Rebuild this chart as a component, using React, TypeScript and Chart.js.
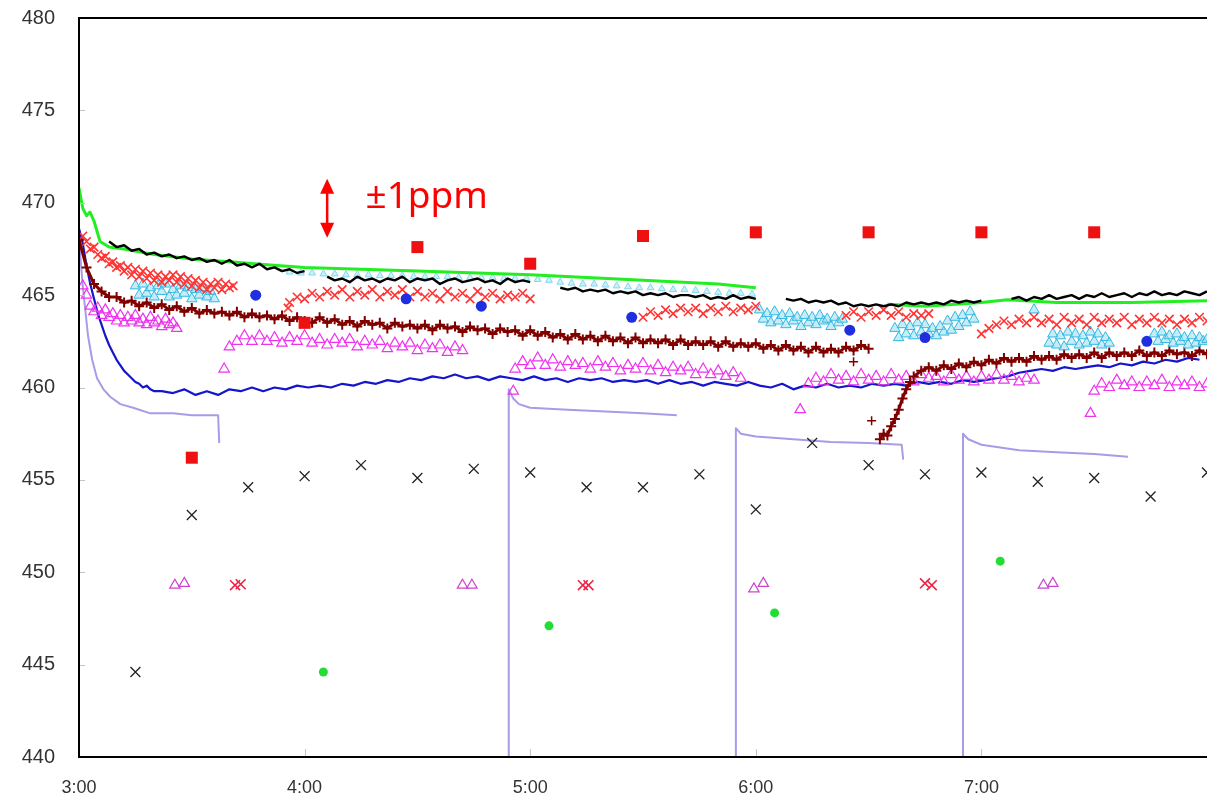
import React, { useEffect, useRef } from "react";
import { Chart, registerables } from "chart.js";

Chart.register(...registerables);

// ---------------- axes ----------------
const X_START_HOUR = 3;
const X_END_HOUR = 8;
const HOUR_LABELS = ["3:00", "4:00", "5:00", "6:00", "7:00"];
const Y_MIN = 440;
const Y_MAX = 480;
const Y_STEP = 5;

// annotation
const ARROW_HOUR = 4.1;
const ARROW_TOP = 471.3;
const ARROW_BOTTOM = 468.1;
const NOTE_TEXT = "±1ppm";
const NOTE_HOUR = 4.27;
const NOTE_BASE = 469.73;

type Seg = { start: number; step: number; values: number[] };
type Pair = [number, number];

// ---------------- data (minutes after 3:00, ppm) ----------------
const redSquareMinutes = [30, 60, 90, 120, 150, 180, 210, 240, 270];
const redSquareValues = [456.2, 463.5, 467.6, 466.7, 468.2, 468.4, 468.4, 468.4, 468.4];

const blackXMinutes = [15, 30, 45, 60, 75, 90, 105, 120, 135, 150, 165, 180, 195, 210, 225, 240, 255, 270, 285, 300];
const blackXValues = [444.6, 453.1, 454.6, 455.2, 455.8, 455.1, 455.6, 455.4, 454.6, 454.6, 455.3, 453.4, 457.0, 455.8, 455.3, 455.4, 454.9, 455.1, 454.1, 455.4];

const blueDotMinutes = [47, 87, 107, 147, 205, 225, 284];
const blueDotValues = [465.0, 464.8, 464.4, 463.8, 463.1, 462.7, 462.5];

const greenDotMinutes = [65, 125, 185, 245];
const greenDotValues = [444.6, 447.1, 447.8, 450.6];

const redXPairs: Pair[] = [[41.5, 449.3], [43, 449.35], [134, 449.3], [135.5, 449.3], [225, 449.4], [226.8, 449.3]];
const magentaPairs: Pair[] = [[25.5, 449.3], [28, 449.4], [102, 449.3], [104.5, 449.3], [179.5, 449.1], [182, 449.4], [256.5, 449.3], [259, 449.4]];

const blackLineSegs: Seg[] = [
  { start: 8, step: 2, values: [467.9, 467.6, 467.7, 467.4, 467.5, 467.2, 467.3, 467.1, 467.2, 467.0, 467.1, 466.9, 467.0, 466.8, 466.9, 466.7, 466.9, 466.6, 466.7, 466.5, 466.7, 466.4, 466.5, 466.3, 466.4, 466.2, 466.3] },
  { start: 66, step: 2, values: [466.0, 465.8, 465.9, 465.7, 466.0, 465.8, 465.9, 465.7, 465.9, 465.8, 466.0, 465.7, 465.9, 465.8, 465.9, 465.6, 465.8, 465.9, 465.7, 465.8, 465.9, 465.7, 465.8, 465.6, 465.9, 465.7, 465.8, 465.7] },
  { start: 128, step: 2, values: [465.4, 465.3, 465.4, 465.2, 465.3, 465.2, 465.3, 465.1, 465.2, 465.1, 465.2, 465.0, 465.1, 465.0, 465.1, 464.9, 465.0, 465.0, 464.9, 465.0, 464.8, 464.9, 464.8, 465.0, 464.8, 464.9, 464.8] },
  { start: 188, step: 2, values: [464.8, 464.7, 464.8, 464.6, 464.7, 464.6, 464.7, 464.5, 464.6, 464.4, 464.5, 464.4, 464.5, 464.4, 464.5, 464.4, 464.6, 464.5, 464.6, 464.5, 464.6, 464.5, 464.7, 464.6, 464.7, 464.6, 464.7] },
  { start: 248, step: 2, values: [464.8, 464.9, 464.7, 464.9, 464.8, 465.0, 464.8, 464.9, 465.0, 464.8, 465.0, 464.9, 465.1, 464.9, 465.0, 465.1, 464.9, 465.1, 465.0, 465.2, 465.0, 465.1, 465.0, 465.2, 465.1, 465.0, 465.2] },
];

const greenLineSegs: Pair[][] = [
  [[0, 470.8], [1, 469.7], [2, 469.3], [2.9, 469.5], [4, 469.0], [5.6, 467.9], [8, 467.6], [12, 467.5], [20, 467.2], [30, 466.95], [40, 466.8], [50, 466.65], [60, 466.5], [90, 466.3], [120, 466.1], [150, 465.8], [170, 465.6], [180, 465.4]],
  [[215, 464.5], [225, 464.4], [240, 464.6], [247, 464.75], [260, 464.6], [280, 464.6], [300, 464.7]],
];

const redXBandSegs: Seg[] = [
  { start: 1, step: 1, values: [468.2, 467.9, 467.5, 467.6, 467.2, 467.0, 467.1, 466.7, 466.8, 466.5, 466.6, 466.3, 466.5, 466.1, 466.4, 466.0, 466.3, 465.9, 466.2, 465.8, 466.1, 465.7, 466.0, 465.8, 466.1, 465.7, 466.0, 465.6, 465.9, 465.5, 465.8, 465.4, 465.7, 465.3, 465.6, 465.4, 465.7, 465.3, 465.6, 465.4, 465.5] },
  { start: 55.6, step: 1, values: [464.3] },
  { start: 56, step: 2, values: [464.6, 464.9, 464.8, 465.1, 464.9, 465.2, 465.0, 465.3, 464.9, 465.2, 465.0, 465.3, 464.9, 465.2, 465.0, 465.3, 464.9, 465.2, 464.9, 465.1, 464.8, 465.2, 464.9, 465.1, 464.8, 465.2, 464.9, 465.1, 464.8, 465.0, 464.9, 465.1, 464.8] },
  { start: 150, step: 2, values: [463.8, 464.1, 463.9, 464.2, 464.0, 464.3, 464.1, 464.3, 464.0, 464.3, 464.1, 464.4, 464.1, 464.3, 464.2, 464.4] },
  { start: 204, step: 2, values: [463.9, 464.1, 463.8, 464.1, 463.9, 464.2, 463.9, 464.1, 463.8, 464.0, 463.9, 464.0] },
  { start: 240, step: 2, values: [462.9, 463.2, 463.4, 463.6, 463.4, 463.7, 463.5, 463.8, 463.5, 463.7, 463.4, 463.8, 463.5, 463.7, 463.4, 463.8, 463.5, 463.7, 463.5, 463.8, 463.4, 463.7, 463.5, 463.8, 463.5, 463.7, 463.4, 463.7, 463.5, 463.8, 463.6] },
];

const cyanBandSegs: Seg[] = [
  { start: 15, step: 1, values: [465.5, 465.0, 465.6, 465.1, 465.4, 464.9, 465.5, 465.2, 465.6, 464.9, 465.3, 465.0, 465.5, 465.1, 465.4, 464.8, 465.3, 465.0, 465.4, 464.9, 465.2, 464.8] },
  { start: 181, step: 1, values: [464.2, 463.7, 464.0, 463.5, 464.1, 463.6, 463.9, 463.4, 464.0, 463.6, 463.8, 463.3, 463.9, 463.5, 463.8, 463.4, 463.9, 463.6, 463.7, 463.3, 463.8, 463.5, 463.7] },
  { start: 217, step: 1, values: [463.2, 462.7, 463.4, 462.9, 463.3, 462.8, 463.5, 463.0, 463.4, 462.9, 463.2, 462.8, 463.3, 463.0, 463.6, 463.1, 463.8, 463.3, 463.9, 463.5, 464.1, 463.7] },
  { start: 254, step: 1, values: [464.2] },
  { start: 258, step: 1, values: [462.4, 462.9, 462.3, 462.8, 462.2, 463.0, 462.5, 462.9, 462.3, 462.8, 462.4, 463.0, 462.5, 462.9, 462.3, 462.7, 462.4] },
  { start: 286, step: 1, values: [462.9, 462.5, 463.0, 462.6, 462.8, 462.4, 462.9, 462.5, 462.7, 462.3, 462.8, 462.4, 462.7, 462.5, 462.6] },
];
// cyan run that lies mostly hidden between the green and black lines
const cyanUnderSegs: Seg[] = [
  { start: 56, step: 3, values: [466.25, 466.2, 466.2, 466.15, 466.15, 466.1, 466.1, 466.1, 466.05, 466.05, 466.05, 466.0, 466.0, 466.0, 466.0, 465.95, 465.95, 465.95, 465.95, 465.9, 465.9, 465.9, 465.85, 465.8, 465.7, 465.65, 465.6, 465.6, 465.55, 465.5, 465.45, 465.4, 465.4, 465.35, 465.3, 465.3, 465.25, 465.2, 465.15, 465.1, 465.1, 465.05] },
];

const maroonSegs: Seg[] = [
  { start: 0, step: 2, values: [
    468.0, 466.5, 465.6, 465.2, 464.9, 464.9, 464.6, 464.7, 464.4, 464.6, 464.3, 464.5, 464.2, 464.4, 464.1, 464.3, 464.0, 464.2, 464.0, 464.1, 463.9, 464.1, 463.8, 464.0, 463.8, 463.9, 463.7, 463.9, 463.6, 463.8, 463.6,
    463.5, 463.8, 463.5, 463.7, 463.4, 463.6, 463.3, 463.6, 463.4, 463.5, 463.2, 463.5, 463.3, 463.4, 463.2, 463.4, 463.1, 463.4, 463.2, 463.3, 463.0, 463.3, 463.1, 463.2, 462.9, 463.2, 463.0, 463.1, 462.8, 463.1,
    462.8, 463.0, 462.7, 462.9, 462.6, 462.9, 462.6, 462.8, 462.5, 462.8, 462.5, 462.7, 462.4, 462.7, 462.4, 462.6, 462.4, 462.6, 462.3, 462.6, 462.3, 462.5, 462.3, 462.5, 462.2, 462.5, 462.2, 462.4, 462.2, 462.4,
    462.1, 462.3, 462.0, 462.3, 462.0, 462.2, 461.9, 462.2, 461.9, 462.1, 461.9, 462.2, 462.0, 462.3, 462.1,
  ] },
  { start: 213, step: 1, values: [457.2, 457.5, 457.4, 457.9, 458.3, 458.8, 459.4, 459.9, 460.3] },
  { start: 222, step: 2, values: [460.6, 460.9, 461.1, 460.9, 461.2, 461.0, 461.3, 461.1, 461.4, 461.2, 461.5, 461.3, 461.6, 461.4, 461.6, 461.4, 461.7, 461.5, 461.7, 461.5, 461.8, 461.6, 461.8, 461.6, 461.9, 461.6, 461.9, 461.7, 461.9, 461.7, 462.0, 461.7, 461.9, 461.7, 462.0, 461.8, 461.9, 461.7, 462.0, 461.8] },
];
const maroonStray: Pair[] = [[210.8, 458.2], [206, 461.4]];

const magentaBandSegs: Seg[] = [
  { start: 1, step: 1, values: [465.5, 465.0, 464.4, 464.1, 464.3, 463.9, 464.2, 463.8, 464.0, 463.6, 463.9, 463.5, 463.8, 463.6, 463.9, 463.5, 463.7, 463.4, 463.8, 463.5, 463.6, 463.3, 463.7, 463.4, 463.5, 463.2] },
  { start: 38.6, step: 1, values: [461.0] },
  { start: 40, step: 2, values: [462.2, 462.5, 462.8, 462.5, 462.8, 462.5, 462.7, 462.4, 462.7, 462.5, 462.8, 462.4, 462.6, 462.3, 462.6, 462.4, 462.6, 462.2, 462.5, 462.3, 462.5, 462.1, 462.4, 462.2, 462.4, 462.0, 462.3, 462.1, 462.3, 461.9, 462.2, 462.0] },
  { start: 115.5, step: 1, values: [459.8] },
  { start: 116, step: 2, values: [461.0, 461.4, 461.2, 461.6, 461.2, 461.5, 461.1, 461.4, 461.2, 461.3, 461.0, 461.4, 461.1, 461.3, 460.9, 461.2, 461.0, 461.3, 460.9, 461.2, 460.8, 461.1, 460.9, 461.1, 460.7, 461.0, 460.7, 460.9, 460.6, 460.8, 460.5] },
  { start: 191.8, step: 1, values: [458.8] },
  { start: 194, step: 2, values: [460.2, 460.5, 460.3, 460.7, 460.4, 460.6, 460.3, 460.7, 460.4, 460.6, 460.3, 460.7, 460.4, 460.6, 460.3, 460.7, 460.5, 460.6, 460.3, 460.7, 460.4, 460.6, 460.3, 460.6, 460.4, 460.7, 460.4, 460.6, 460.3, 460.5, 460.4] },
  { start: 269, step: 1, values: [458.6] },
  { start: 270, step: 2, values: [459.8, 460.2, 460.0, 460.4, 460.1, 460.3, 460.0, 460.3, 460.1, 460.4, 460.0, 460.3, 460.1, 460.3, 460.0, 460.2] },
];

const blueLineSegs: Seg[] = [
  { start: 0, step: 1, values: [468.6, 467.8, 466.6, 465.6, 464.8, 464.0, 463.4, 462.8, 462.3, 461.9, 461.5, 461.2, 460.9, 460.7, 460.5, 460.3, 460.2, 460.0, 460.1, 459.9, 459.8] },
  { start: 22, step: 3, values: [
    459.8, 459.7, 459.9, 459.6, 459.8, 459.6, 459.9, 459.8, 460.0, 459.8, 460.0, 459.9, 460.1, 460.0, 460.1, 460.0, 460.2, 460.1, 460.3, 460.2, 460.4, 460.3, 460.5, 460.4, 460.6, 460.5, 460.7, 460.5, 460.6, 460.4, 460.6,
    460.5, 460.4, 460.6, 460.4, 460.5, 460.3, 460.5, 460.4, 460.5, 460.3, 460.4, 460.3, 460.4, 460.2, 460.4, 460.2, 460.3, 460.1, 460.3, 460.2, 460.1, 460.3, 460.1, 460.0, 460.2, 459.9, 460.1, 460.0, 460.2, 460.0,
    460.1, 460.0, 460.2, 460.1, 460.2, 460.1, 460.3, 460.2, 460.3, 460.2, 460.4, 460.3, 460.4, 460.5, 460.6, 460.8, 460.9, 461.0, 460.9, 461.1, 461.0, 461.1, 461.2, 461.1, 461.3, 461.2, 461.4, 461.3, 461.5, 461.4, 461.6, 461.5,
  ] },
];

const lavenderSegs: Pair[][] = [
  [[0, 468.0], [1, 465.5], [2.4, 462.8], [3.5, 461.5], [4.8, 460.5], [6.5, 459.9], [8.3, 459.5], [11, 459.1], [14.4, 458.9], [19, 458.6], [25, 458.6], [30, 458.5], [37, 458.5], [37.3, 457.0]],
  [[114.1, 438], [114.3, 459.9], [115.5, 459.4], [117, 459.1], [120, 458.9], [130, 458.8], [140, 458.7], [150, 458.6], [159, 458.5]],
  [[174.5, 438], [174.7, 457.8], [176, 457.5], [180, 457.35], [190, 457.2], [200, 457.05], [210, 457.0], [218.8, 456.9], [219.2, 456.1]],
  [[234.9, 438], [235.1, 457.5], [236.5, 457.2], [240, 456.9], [250, 456.6], [260, 456.5], [270, 456.4], [279, 456.25]],
];

// ---------------- helpers ----------------
type P = { x: number; y: number | null };
const toHour = (m: number) => X_START_HOUR + m / 60;
const fromLists = (mins: number[], vals: number[]): P[] => mins.map((m, i) => ({ x: toHour(m), y: vals[i] }));
const fromPairs = (pairs: Pair[]): P[] => pairs.map(([m, v]) => ({ x: toHour(m), y: v }));
const fromSegs = (segs: Seg[], gaps: boolean): P[] => {
  const out: P[] = [];
  segs.forEach((s, k) => {
    if (gaps && k > 0) out.push({ x: toHour(s.start) - 0.001, y: null });
    s.values.forEach((v, i) => out.push({ x: toHour(s.start + i * s.step), y: v }));
  });
  return out;
};
const fromPairSegs = (segs: Pair[][]): P[] => {
  const out: P[] = [];
  segs.forEach((s, k) => {
    if (k > 0) out.push({ x: toHour(s[0][0]) - 0.001, y: null });
    s.forEach(([m, v]) => out.push({ x: toHour(m), y: v }));
  });
  return out;
};

const marker = (label: string, data: P[], style: string, radius: number, border: string, fill: string, bw: number) => ({
  label, data, showLine: false, pointStyle: style, pointRadius: radius,
  pointBorderColor: border, pointBackgroundColor: fill, pointBorderWidth: bw,
  borderColor: border, backgroundColor: fill,
});
const line = (label: string, data: P[], color: string, width: number) => ({
  label, data, showLine: true, spanGaps: false, pointRadius: 0, borderColor: color,
  backgroundColor: color, borderWidth: width, tension: 0, borderJoinStyle: "round",
});

const decorPlugin = {
  id: "decor",
  afterDatasetsDraw(chart: any) {
    const { ctx, chartArea, scales } = chart;
    const { left, top, right, bottom } = chartArea;
    const xs = scales.x;
    const ys = scales.y;
    ctx.save();
    // inner tick marks
    ctx.strokeStyle = "#c4c4c4";
    ctx.lineWidth = 1;
    for (let v = Y_MIN + Y_STEP; v < Y_MAX; v += Y_STEP) {
      const py = Math.round(ys.getPixelForValue(v)) + 0.5;
      ctx.beginPath(); ctx.moveTo(left, py); ctx.lineTo(left + 6, py); ctx.stroke();
    }
    for (let h = X_START_HOUR + 1; h < X_END_HOUR; h++) {
      const px = Math.round(xs.getPixelForValue(h)) + 0.5;
      ctx.beginPath(); ctx.moveTo(px, bottom); ctx.lineTo(px, bottom - 8); ctx.stroke();
    }
    // frame
    ctx.strokeStyle = "#000";
    ctx.lineWidth = 2;
    ctx.beginPath();
    ctx.moveTo(left, bottom); ctx.lineTo(left, top); ctx.lineTo(right + 2, top);
    ctx.moveTo(left - 1, bottom); ctx.lineTo(right + 2, bottom);
    ctx.stroke();
    // annotation arrow
    const ax = xs.getPixelForValue(ARROW_HOUR);
    const a1 = ys.getPixelForValue(ARROW_TOP);
    const a2 = ys.getPixelForValue(ARROW_BOTTOM);
    ctx.strokeStyle = "#ff0000";
    ctx.fillStyle = "#ff0000";
    ctx.lineWidth = 2.5;
    ctx.beginPath(); ctx.moveTo(ax, a1 + 10); ctx.lineTo(ax, a2 - 10); ctx.stroke();
    ctx.beginPath(); ctx.moveTo(ax, a1); ctx.lineTo(ax - 7, a1 + 15); ctx.lineTo(ax + 7, a1 + 15); ctx.closePath(); ctx.fill();
    ctx.beginPath(); ctx.moveTo(ax, a2); ctx.lineTo(ax - 7, a2 - 15); ctx.lineTo(ax + 7, a2 - 15); ctx.closePath(); ctx.fill();
    ctx.font = '37px "Noto Sans", sans-serif';
    ctx.textAlign = "left";
    ctx.textBaseline = "alphabetic";
    ctx.fillText(NOTE_TEXT, xs.getPixelForValue(NOTE_HOUR), ys.getPixelForValue(NOTE_BASE));
    ctx.restore();
  },
};

export default function App() {
  const ref = useRef<HTMLCanvasElement | null>(null);
  useEffect(() => {
    if (!ref.current) return;
    const datasets: any[] = [
      marker("red squares", fromLists(redSquareMinutes, redSquareValues), "rect", 8.5, "#ee1111", "#ee1111", 0),
      marker("black x", fromLists(blackXMinutes, blackXValues), "crossRot", 7, "#222222", "#222222", 1.3),
      marker("blue dots", fromLists(blueDotMinutes, blueDotValues), "circle", 5.5, "#1f2fe0", "#1f2fe0", 0),
      marker("green dots", fromLists(greenDotMinutes, greenDotValues), "circle", 4.5, "#22dd33", "#22dd33", 0),
      marker("red x pairs", fromPairs(redXPairs), "crossRot", 7, "#ee2244", "#ee2244", 1.6),
      marker("magenta pairs", fromPairs(magentaPairs), "triangle", 6, "#cc44cc", "rgba(0,0,0,0)", 1.2),
      line("black line", fromSegs(blackLineSegs, true), "#000000", 2.4),
      line("green line", fromPairSegs(greenLineSegs), "#22ee22", 3),
      marker("cyan under", fromSegs(cyanUnderSegs, false), "triangle", 4, "#7fd8f0", "rgba(170,230,245,0.6)", 1),
      marker("red x band", fromSegs(redXBandSegs, false), "crossRot", 6, "#ff3333", "#ff3333", 1.6),
      marker("cyan band", fromSegs(cyanBandSegs, false), "triangle", 6, "#33b8e0", "rgba(150,220,242,0.55)", 1),
      marker("maroon stray", fromPairs(maroonStray), "cross", 4.5, "#800000", "#800000", 1.5),
      {
        ...line("maroon", fromSegs(maroonSegs, true), "#800000", 3),
        pointRadius: 5, pointStyle: "cross", pointBorderWidth: 2, pointBorderColor: "#800000",
      },
      marker("magenta band", fromSegs(magentaBandSegs, false), "triangle", 6, "#ee33ee", "rgba(0,0,0,0)", 1.2),
      line("blue line", fromSegs(blueLineSegs, false), "#1515cc", 2.2),
      line("lavender line", fromPairSegs(lavenderSegs), "#a99be8", 2),
    ];
    const chart = new Chart(ref.current, {
      type: "scatter",
      data: { datasets },
      options: {
        animation: false,
        responsive: false,
        devicePixelRatio: 1,
        events: [],
        layout: { autoPadding: false, padding: { top: 0, right: 0, left: 0, bottom: 0 } },
        plugins: { legend: { display: false }, tooltip: { enabled: false } },
        scales: {
          x: {
            type: "linear",
            min: X_START_HOUR,
            max: X_END_HOUR,
            grid: { display: false, drawTicks: false },
            border: { display: false },
            afterBuildTicks: (s: any) => {
              s.ticks = HOUR_LABELS.map((_, i) => ({ value: X_START_HOUR + i }));
            },
            afterFit: (s: any) => { s.height = 42; },
            ticks: {
              padding: 20,
              maxRotation: 0,
              autoSkip: false,
              color: "#333",
              font: { family: '"Liberation Sans", Arial, sans-serif', size: 18 },
              callback: (v: any) => HOUR_LABELS[Math.round(Number(v) - X_START_HOUR)] ?? "",
            },
          },
          y: {
            type: "linear",
            min: Y_MIN,
            max: Y_MAX,
            grid: { display: false, drawTicks: true, tickLength: 18 },
            border: { display: false },
            afterFit: (s: any) => { s.width = 79; s.paddingTop = 18; },
            ticks: {
              stepSize: Y_STEP,
              padding: 6,
              color: "#333",
              font: { family: '"Liberation Sans", Arial, sans-serif', size: 20 },
            },
          },
        },
      },
      plugins: [decorPlugin],
    } as any);
    return () => chart.destroy();
  }, []);
  return (
    <div style={{ position: "fixed", left: 0, top: 0, width: 1207, height: 799, background: "#fff" }}>
      <canvas ref={ref} width={1207} height={799} style={{ width: 1207, height: 799, display: "block" }} />
    </div>
  );
}
